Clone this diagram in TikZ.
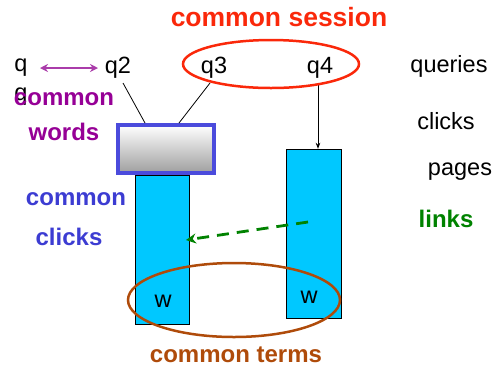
\documentclass[tikz,border=0pt]{standalone}
\usepackage{fontspec}
\setmainfont{Liberation Sans}
\usetikzlibrary{arrows.meta}
\definecolor{sessred}{RGB}{250,40,10}
\definecolor{wordpurple}{RGB}{150,0,150}
\definecolor{arrpurple}{RGB}{170,60,170}
\definecolor{clickblue}{RGB}{60,60,210}
\definecolor{boxblue}{RGB}{75,75,220}
\definecolor{barcyan}{RGB}{0,200,255}
\definecolor{linkgreen}{RGB}{0,130,0}
\definecolor{termbrown}{RGB}{175,75,10}
\tikzset{
	lbl/.style={font=\fontsize{23.5}{28}\selectfont, inner sep=0pt},
	bold/.style={font=\fontsize{24}{28}\selectfont\bfseries, inner sep=0pt},
	bar/.style={draw=black, fill=barcyan, minimum width=54pt, inner sep=0pt}
}
\begin{document}
\begin{tikzpicture}[x=1pt,y=-1pt]
		\useasboundingbox (0,0) rectangle (497,368);
		
		% Queries
		\node[lbl] (q) at (21,68) {q};
		\node[lbl] (q2) at (118,68) {q2};
		\node[lbl] (q3) at (214,68) {q3};
		\node[lbl] (q4) at (320,68) {q4};
		\coordinate (pa) at (40,68);
		\coordinate (pb) at (98,68);
		\draw[arrpurple, line width=2.2pt, {Stealth[length=8pt,width=8pt]}-{Stealth[length=8pt,width=8pt]}] (pa) -- (pb);
		
		% Side labels
		\node[lbl] (queries) at (449,66) {queries};
		\node[lbl] (clicks) at (446,121) {clicks};
		\node[lbl] (pages) at (460,172) {pages};
		\node[bold, text=linkgreen] (links) at (446,219) {links};
		
		% Common words / clicks
		\node[lbl] (qhid) at (21,97) {q};
		\node[bold, text=wordpurple] (cw1) at (64,99) {common};
		\node[bold, text=wordpurple] (cw2) at (64,132) {words};
		\node[bold, text=clickblue] (cc1) at (76,199) {common};
		\node[bold, text=clickblue] (cc2) at (69,237) {clicks};
		
		% Bars
		\node[bar, minimum height=149pt] (lbar) at (162,249.5) {};
		\node[bar, minimum height=169pt, minimum width=55pt] (rbar) at (313.5,233.5) {};
		\node[lbl] (w1) at (163,301) {w};
		\node[lbl] (w2) at (309,297) {w};
		
		% Query box
		\node[draw=boxblue, line width=3.5pt, top color=white, bottom color=gray!75,
			minimum width=96pt, minimum height=48pt] (qbox) at (166,149) {};
		\coordinate (b1) at (145,123);
		\coordinate (b2) at (179,123);
		\coordinate (q2b) at (123,83);
		\coordinate (q3b) at (210,83);
		\draw[thick] (q2b) -- (b1);
		\draw[thick] (q3b) -- (b2);
		\draw[thick, -{Stealth[length=6pt]}] (318,83) coordinate (q4b) -- (q4b |- rbar.north);
		
		% Link
		\coordinate (la) at (308,222);
		\coordinate (lb) at (186,240);
		\draw[linkgreen, line width=2.8pt, dash pattern=on 12pt off 8pt, -{Stealth[length=10pt,width=10pt]}] (la) -- (lb);
		
		% Ellipses
		\draw[sessred, line width=2.5pt] (271,64) ellipse (88 and 24);
		\node[font=\fontsize{26.5}{30}\selectfont\bfseries, inner sep=0pt, text=sessred] (sess) at (279,17) {common session};
		\draw[termbrown, line width=2.5pt] (234,300) ellipse (106 and 37);
		\node[bold, text=termbrown] (terms) at (236,355) {common terms};
	\end{tikzpicture}
\end{document}
